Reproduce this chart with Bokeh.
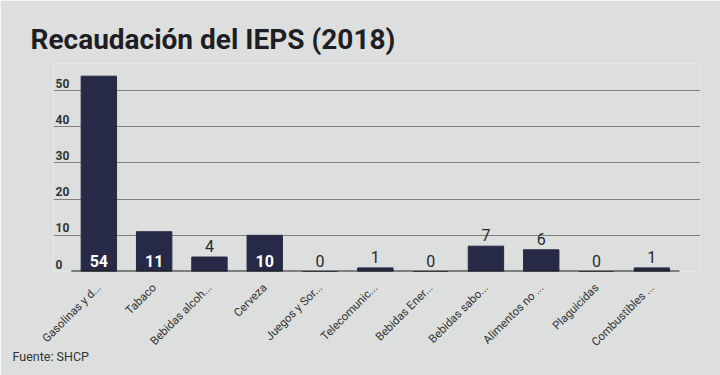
from bokeh.plotting import figure
from bokeh.models import Range1d, FixedTicker, Label, Title, ColumnDataSource
from bokeh.embed import file_html
from bokeh.resources import INLINE
import math

categories = ["Gasolinas y d...", "Tabaco", "Bebidas alcoh...", "Cerveza",
              "Juegos y Sor...", "Telecomunic...", "Bebidas Ener...",
              "Bebidas sabo...", "Alimentos no ...", "Plaguicidas", "Combustibles ..."]
values = [54, 11, 4, 10, 0, 1, 0, 7, 6, 0, 1]
y_ticks = [0, 10, 20, 30, 40, 50]

BG = "#dcdfde"
BAR = "#262a46"
FONT = "Roboto"

xs = list(range(len(categories)))
x_start, x_end = -0.82, len(categories) - 0.12

p = figure(width=720, height=375, output_backend="svg", toolbar_location=None,
           x_range=Range1d(x_start, x_end), y_range=Range1d(0, 57.5),
           min_border_left=53, min_border_right=20, min_border_top=63, min_border_bottom=104)
p.background_fill_color = BG
p.border_fill_color = BG
p.outline_line_color = None

p.title.text = "Recaudación del IEPS (2018)"
p.title.text_font = FONT
p.title.text_font_size = "28px"
p.title.text_font_style = "bold"
p.title.text_color = "#1e1e24"
p.title.align = "left"
p.title.offset = -23
p.title.standoff = 16

inside = [v >= 10 for v in values]
src = ColumnDataSource(dict(
    x=xs, top=values, cat=categories,
    lab_in=[str(v) if i else "" for v, i in zip(values, inside)],
    lab_out=[str(v) if not i else "" for v, i in zip(values, inside)],
))

p.vbar(x="x", top="top", width=0.64, source=src, color=BAR)

p.text(x="x", y=0, text="lab_in", source=src, text_align="center", text_baseline="bottom",
       y_offset=-5, text_color="white", text_font_size="16px", text_font_style="bold",
       text_font={"value": FONT})
p.text(x="x", y="top", text="lab_out", source=src, text_align="center", text_baseline="bottom",
       y_offset=-5, text_color="#2a2a2a", text_font_size="16px",
       text_font={"value": FONT})

# baseline
p.segment(x0=[xs[0] - 0.5], x1=[xs[-1] + 0.5], y0=[0], y1=[0], line_color="#1a1a1a", line_width=2)

# y grid + labels
p.yaxis.visible = False
p.ygrid.ticker = FixedTicker(ticks=y_ticks)
p.ygrid.grid_line_color = "#7e8080"
p.ygrid.grid_line_width = 1
p.xgrid.visible = False
for t in y_ticks:
    p.add_layout(Label(x=x_start, y=t, text=str(t), x_offset=2, y_offset=3,
                       text_font=FONT, text_font_size="12px", text_font_style="bold",
                       text_color="#333333", text_baseline="bottom"))

p.xaxis.ticker = FixedTicker(ticks=xs)
p.xaxis.major_label_overrides = {i: c for i, c in zip(xs, categories)}
p.xaxis.major_label_orientation = math.pi / 4
p.xaxis.axis_line_color = None
p.xaxis.major_tick_line_color = None
p.xaxis.minor_tick_line_color = None
p.xaxis.major_label_text_font = FONT
p.xaxis.major_label_text_font_size = "11.5px"
p.xaxis.major_label_text_color = "#333333"
p.xaxis.major_label_standoff = 8

p.add_layout(Title(text="Fuente: SHCP", align="left", offset=-41, standoff=-16,
                   vertical_align="top", text_font=FONT,
                   text_font_size="12.5px", text_font_style="normal", text_color="#333333"),
             "below")

open("out.html", "w").write(file_html(p, INLINE))
